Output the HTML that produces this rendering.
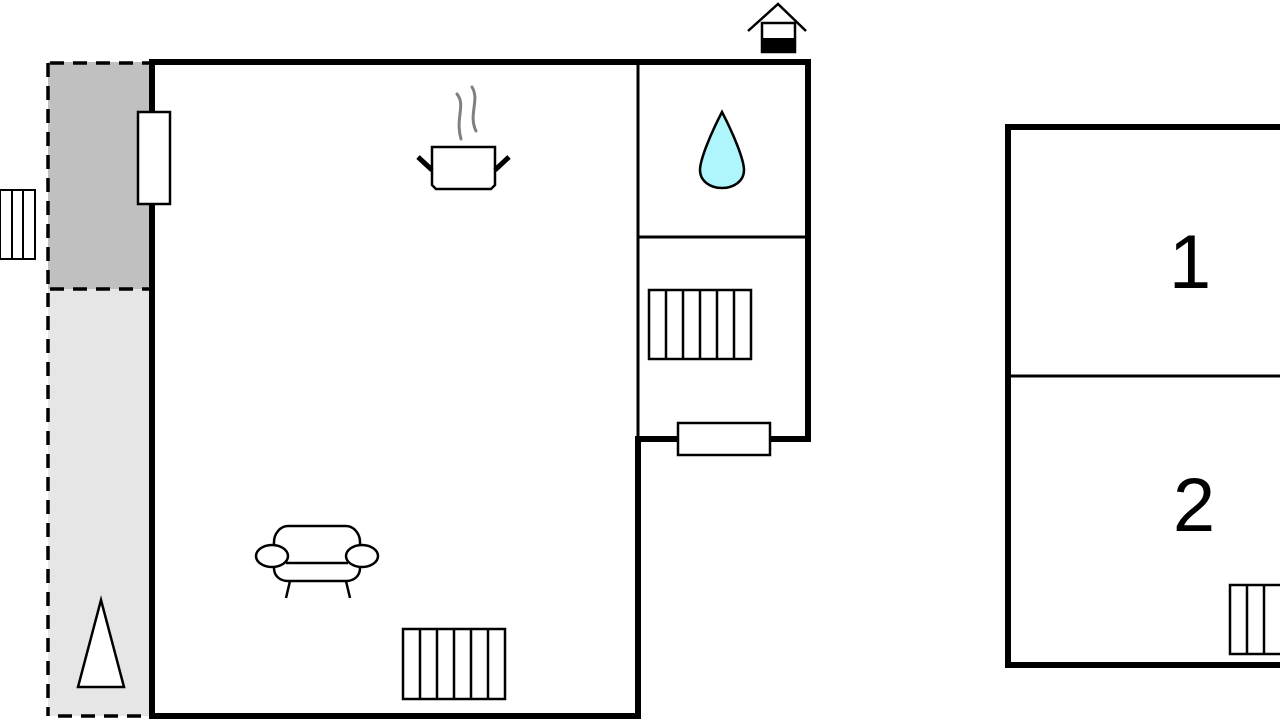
<!DOCTYPE html>
<html><head><meta charset="utf-8"><style>html,body{margin:0;padding:0;background:#fff}svg{display:block}</style></head>
<body>
<svg width="1280" height="720" viewBox="0 0 1280 720" xmlns="http://www.w3.org/2000/svg">
<rect x="48" y="62" width="104" height="227" fill="#c0c0c0"/>
<rect x="48" y="289" width="104" height="427" fill="#e6e6e6"/>
<g stroke="#000" stroke-width="3.5" stroke-dasharray="14,9" fill="none">
<line x1="48" y1="63" x2="48" y2="716"/>
<line x1="50" y1="63" x2="152" y2="63"/>
<line x1="50" y1="289" x2="152" y2="289"/>
<line x1="58" y1="716" x2="152" y2="716"/>
</g>
<polyline points="152,716 152,62 808,62 808,439 638,439 638,716 152,716 152,712" fill="none" stroke="#000" stroke-width="6"/>
<line x1="638" y1="62" x2="638" y2="439" stroke="#000" stroke-width="3"/>
<line x1="638" y1="237" x2="808" y2="237" stroke="#000" stroke-width="3"/>
<rect x="138" y="112" width="32" height="92" fill="#fff" stroke="#000" stroke-width="2.5"/>
<rect x="678" y="423" width="92" height="32" fill="#fff" stroke="#000" stroke-width="2.5"/>
<g fill="#fff" stroke="#000" stroke-width="2">
<rect x="0" y="190" width="35" height="69"/>
<line x1="12" y1="190" x2="12" y2="259"/><line x1="23" y1="190" x2="23" y2="259"/>
</g>
<g stroke="#000" stroke-width="2.5" fill="none">
<polyline points="748,31 778,4 806,31"/>
<rect x="762" y="23" width="33" height="29" fill="#fff"/>
</g>
<rect x="761" y="38" width="35" height="15" fill="#000"/>
<g fill="none" stroke="#808080" stroke-width="3" stroke-linecap="round">
<path d="M457,94 C466,105 455,118 461,139"/>
<path d="M472,87 C480,100 468,115 476,131"/>
</g>
<path d="M432,147 H495 V185 L491,189 H436 L432,185 Z" fill="#fff" stroke="#000" stroke-width="2.5"/>
<path d="M418,157 L432,170" stroke="#000" stroke-width="5"/>
<path d="M509,157 L495,170" stroke="#000" stroke-width="5"/>
<path d="M722,112 C710,135 700,160 700,170 C700,181 710,188 722,188 C734,188 744,181 744,170 C744,160 734,135 722,112 Z" fill="#aef6fb" stroke="#000" stroke-width="2.5"/>
<g fill="#fff" stroke="#000" stroke-width="2.5">
<rect x="649" y="290" width="102" height="69"/>
<path d="M666,290V359M683,290V359M700,290V359M717,290V359M734,290V359"/>
<rect x="403" y="629" width="102" height="70"/>
<path d="M420,629V699M437,629V699M454,629V699M471,629V699M488,629V699"/>
<rect x="1230" y="585" width="60" height="69"/>
<path d="M1247,585V654M1264,585V654"/>
</g>
<g fill="#fff" stroke="#000" stroke-width="2.5">
<path d="M274,552 V542 C274,534 280,526 288,526 H346 C354,526 360,534 360,542 V552"/>
<path d="M274,560 V568 C274,576 280,581 288,581 H346 C354,581 360,576 360,568 V560"/>
<line x1="286" y1="563" x2="348" y2="563"/>
<ellipse cx="272" cy="556" rx="16" ry="11"/>
<ellipse cx="362" cy="556" rx="16" ry="11"/>
<line x1="290" y1="581" x2="286" y2="598"/>
<line x1="346" y1="581" x2="350" y2="598"/>
</g>
<polygon points="101,600 124,687 78,687" fill="#fff" stroke="#000" stroke-width="2.5"/>
<polyline points="1290,127 1008,127 1008,665 1290,665" fill="none" stroke="#000" stroke-width="6"/>
<line x1="1008" y1="376" x2="1290" y2="376" stroke="#000" stroke-width="3"/>
<text x="1190" y="288" font-family="Liberation Sans, sans-serif" font-size="76" text-anchor="middle" fill="#000">1</text>
<text x="1194" y="531" font-family="Liberation Sans, sans-serif" font-size="76" text-anchor="middle" fill="#000">2</text>
</svg>
</body></html>
